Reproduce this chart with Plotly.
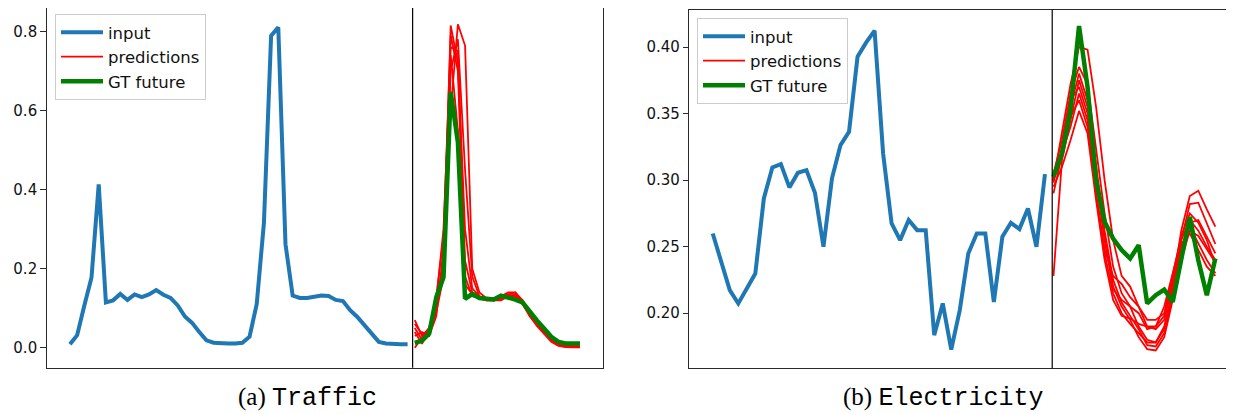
import plotly.graph_objects as go

# ---------------- Traffic (panel a) ----------------
traffic_input = [0.009, 0.032, 0.107, 0.178, 0.413, 0.115, 0.120, 0.136, 0.121, 0.135,
                 0.128, 0.135, 0.146, 0.134, 0.126, 0.107, 0.079, 0.063, 0.040, 0.019,
                 0.013, 0.011, 0.011, 0.011, 0.0125, 0.028, 0.111, 0.316, 0.789, 0.810,
                 0.262, 0.132, 0.126, 0.126, 0.130, 0.132, 0.131, 0.121, 0.118, 0.095,
                 0.078, 0.057, 0.036, 0.015, 0.011, 0.009, 0.009, 0.009]
traffic_gt = [0.0125, 0.018, 0.036, 0.128, 0.178, 0.647, 0.52, 0.124, 0.136, 0.126,
              0.124, 0.122, 0.132, 0.128, 0.122, 0.115, 0.090, 0.069, 0.049, 0.028,
              0.015, 0.011, 0.011, 0.011]
traffic_preds = [
    [0.07, 0.03, 0.05, 0.11, 0.22, 0.815, 0.72, 0.30, 0.15, 0.13, 0.125, 0.12, 0.125, 0.13, 0.13, 0.115, 0.085, 0.06, 0.04, 0.02, 0.008, 0.004, 0.003, 0.003],
    [0.05, 0.02, 0.04, 0.09, 0.18, 0.60, 0.818, 0.764, 0.20, 0.14, 0.125, 0.12, 0.12, 0.13, 0.135, 0.12, 0.09, 0.065, 0.045, 0.025, 0.01, 0.005, 0.004, 0.004],
    [0.03, 0.04, 0.03, 0.08, 0.25, 0.76, 0.75, 0.22, 0.14, 0.13, 0.12, 0.12, 0.125, 0.135, 0.14, 0.12, 0.08, 0.055, 0.035, 0.015, 0.005, 0.002, 0.001, 0.001],
    [0.0, 0.025, 0.05, 0.12, 0.30, 0.74, 0.55, 0.16, 0.135, 0.125, 0.12, 0.125, 0.13, 0.135, 0.13, 0.11, 0.08, 0.06, 0.04, 0.02, 0.008, 0.003, 0.002, 0.002],
    [0.06, 0.035, 0.04, 0.10, 0.20, 0.70, 0.78, 0.45, 0.18, 0.13, 0.125, 0.125, 0.13, 0.14, 0.14, 0.115, 0.09, 0.07, 0.05, 0.03, 0.012, 0.006, 0.005, 0.005],
    [0.04, 0.01, 0.045, 0.13, 0.28, 0.79, 0.70, 0.18, 0.13, 0.125, 0.12, 0.12, 0.125, 0.13, 0.135, 0.12, 0.085, 0.06, 0.04, 0.02, 0.007, 0.003, 0.002, 0.002],
]
traffic_split = 47.7

# ---------------- Electricity (panel b) ----------------
elec_input = [0.2599, 0.2373, 0.2173, 0.2073, 0.2185, 0.2298, 0.2862, 0.3095, 0.3120, 0.2945,
              0.3055, 0.3075, 0.2905, 0.2499, 0.3013, 0.3263, 0.3363, 0.3927, 0.4033, 0.4123,
              0.3200, 0.2674, 0.2549, 0.2700, 0.2624, 0.2624, 0.1835, 0.2073, 0.1727, 0.2023,
              0.2449, 0.2599, 0.2599, 0.2085, 0.2574, 0.2679, 0.2632, 0.2787, 0.2499, 0.3045]
elec_gt = [0.3025, 0.32, 0.3526, 0.4158, 0.37, 0.30, 0.2687, 0.2561, 0.2474, 0.2411,
           0.2511, 0.2073, 0.2135, 0.2178, 0.2085, 0.2398, 0.2724, 0.2398, 0.2135, 0.2411]
elec_preds = [
    [0.300, 0.335, 0.372, 0.400, 0.398, 0.355, 0.300, 0.255, 0.228, 0.220, 0.205, 0.190, 0.188, 0.195, 0.222, 0.262, 0.288, 0.292, 0.278, 0.265],
    [0.305, 0.330, 0.365, 0.385, 0.372, 0.325, 0.275, 0.235, 0.215, 0.205, 0.190, 0.180, 0.178, 0.188, 0.215, 0.255, 0.282, 0.283, 0.268, 0.252],
    [0.298, 0.325, 0.355, 0.380, 0.360, 0.310, 0.262, 0.225, 0.208, 0.198, 0.188, 0.176, 0.175, 0.185, 0.212, 0.245, 0.268, 0.270, 0.258, 0.245],
    [0.228, 0.315, 0.345, 0.375, 0.355, 0.300, 0.255, 0.220, 0.205, 0.195, 0.182, 0.173, 0.172, 0.182, 0.210, 0.240, 0.262, 0.258, 0.248, 0.238],
    [0.302, 0.320, 0.340, 0.365, 0.345, 0.290, 0.245, 0.215, 0.200, 0.192, 0.185, 0.178, 0.178, 0.190, 0.218, 0.250, 0.265, 0.252, 0.240, 0.230],
    [0.295, 0.310, 0.330, 0.352, 0.335, 0.285, 0.240, 0.210, 0.198, 0.196, 0.192, 0.190, 0.190, 0.198, 0.225, 0.252, 0.260, 0.248, 0.235, 0.228],
    [0.300, 0.322, 0.360, 0.370, 0.350, 0.305, 0.258, 0.218, 0.210, 0.205, 0.200, 0.188, 0.190, 0.205, 0.230, 0.255, 0.270, 0.262, 0.250, 0.240],
    [0.290, 0.318, 0.348, 0.360, 0.340, 0.290, 0.248, 0.228, 0.222, 0.212, 0.205, 0.195, 0.195, 0.200, 0.228, 0.258, 0.275, 0.268, 0.255, 0.236],
]
elec_split = 39.85

BLUE = "#1f77b4"
RED = "#ff0000"
GREEN = "#008000"
FONT = "DejaVu Sans"

fig = go.Figure()


def add_panel(inp, preds, gt, xa, ya, legend):
    n = len(inp)
    xin = list(range(n))
    xf = list(range(n, n + len(gt)))
    fig.add_trace(go.Scatter(x=xin, y=inp, mode="lines", name="input",
                             line=dict(color=BLUE, width=4), xaxis=xa, yaxis=ya,
                             legend=legend))
    for k, p in enumerate(preds):
        fig.add_trace(go.Scatter(x=xf, y=p, mode="lines", name="predictions",
                                 line=dict(color=RED, width=1.8), xaxis=xa, yaxis=ya,
                                 showlegend=(k == 0), legend=legend))
    fig.add_trace(go.Scatter(x=xf, y=gt, mode="lines", name="GT future",
                             line=dict(color=GREEN, width=4.5), xaxis=xa, yaxis=ya,
                             legend=legend))


add_panel(traffic_input, traffic_preds, traffic_gt, "x", "y", "legend")
add_panel(elec_input, elec_preds, elec_gt, "x2", "y2", "legend2")

# page body has an 8px margin: lay the figure out in page pixels minus that offset
OFF = 8
W, H = 1234 - OFF, 414 - OFF


def px(v):
    return (v - OFF) / W


def py(v):
    return 1 - (v - OFF) / H


AX = "#2a2a2a"

common_x = dict(showgrid=False, zeroline=False, showticklabels=False, ticks="",
                showline=True, linecolor=AX, linewidth=1, mirror=True)
common_y = dict(showgrid=False, zeroline=False, ticks="outside", ticklen=5.5, tickwidth=1,
                tickcolor=AX, showline=True, linecolor=AX, linewidth=1,
                tickfont=dict(family=FONT, size=15, color="#111"))

legend_style = dict(xanchor="left", yanchor="top",
                    bgcolor="rgba(255,255,255,0.85)", bordercolor="#cccccc", borderwidth=1,
                    font=dict(family=FONT, size=16.5, color="#111"), itemwidth=42,
                    tracegroupgap=0)

fig.update_layout(
    width=W, height=H,
    margin=dict(l=0, r=0, t=0, b=0),
    paper_bgcolor="white", plot_bgcolor="white",
    xaxis=dict(domain=[px(46.7), px(602.7)], range=[-3.24, 74.16], **common_x),
    yaxis=dict(domain=[py(367.7), 1.0], range=[-0.0503, 0.859],
               tickvals=[0, 0.2, 0.4, 0.6, 0.8], tickformat=".1f", mirror=True, **common_y),
    xaxis2=dict(domain=[px(689.3), 1.0], range=[-2.75, 61.19], anchor="y2", **common_x),
    yaxis2=dict(domain=[py(368.3), py(10)], range=[0.1586, 0.4278], anchor="x2",
                tickvals=[0.20, 0.25, 0.30, 0.35, 0.40], tickformat=".2f", mirror=False,
                **common_y),
    legend=dict(x=px(55), y=py(14), **legend_style),
    legend2=dict(x=px(697), y=py(18), **legend_style),
    shapes=[
        dict(type="line", xref="x", yref="y domain", x0=traffic_split, x1=traffic_split,
             y0=0, y1=1, line=dict(color="black", width=1.2)),
        dict(type="line", xref="x2", yref="y2 domain", x0=elec_split, x1=elec_split,
             y0=0, y1=1, line=dict(color="black", width=1.2)),
    ],
    annotations=[
        dict(xref="paper", yref="paper", x=px(307), y=py(397.5), xanchor="center",
             yanchor="middle", showarrow=False,
             text="(a) <span style='font-family:Liberation Mono'>Traffic</span>",
             font=dict(family="Liberation Serif", size=25, color="black")),
        dict(xref="paper", yref="paper", x=px(943), y=py(397.5), xanchor="center",
             yanchor="middle", showarrow=False,
             text="(b) <span style='font-family:Liberation Mono'>Electricity</span>",
             font=dict(family="Liberation Serif", size=25, color="black")),
    ],
)

fig.write_html("out.html")
